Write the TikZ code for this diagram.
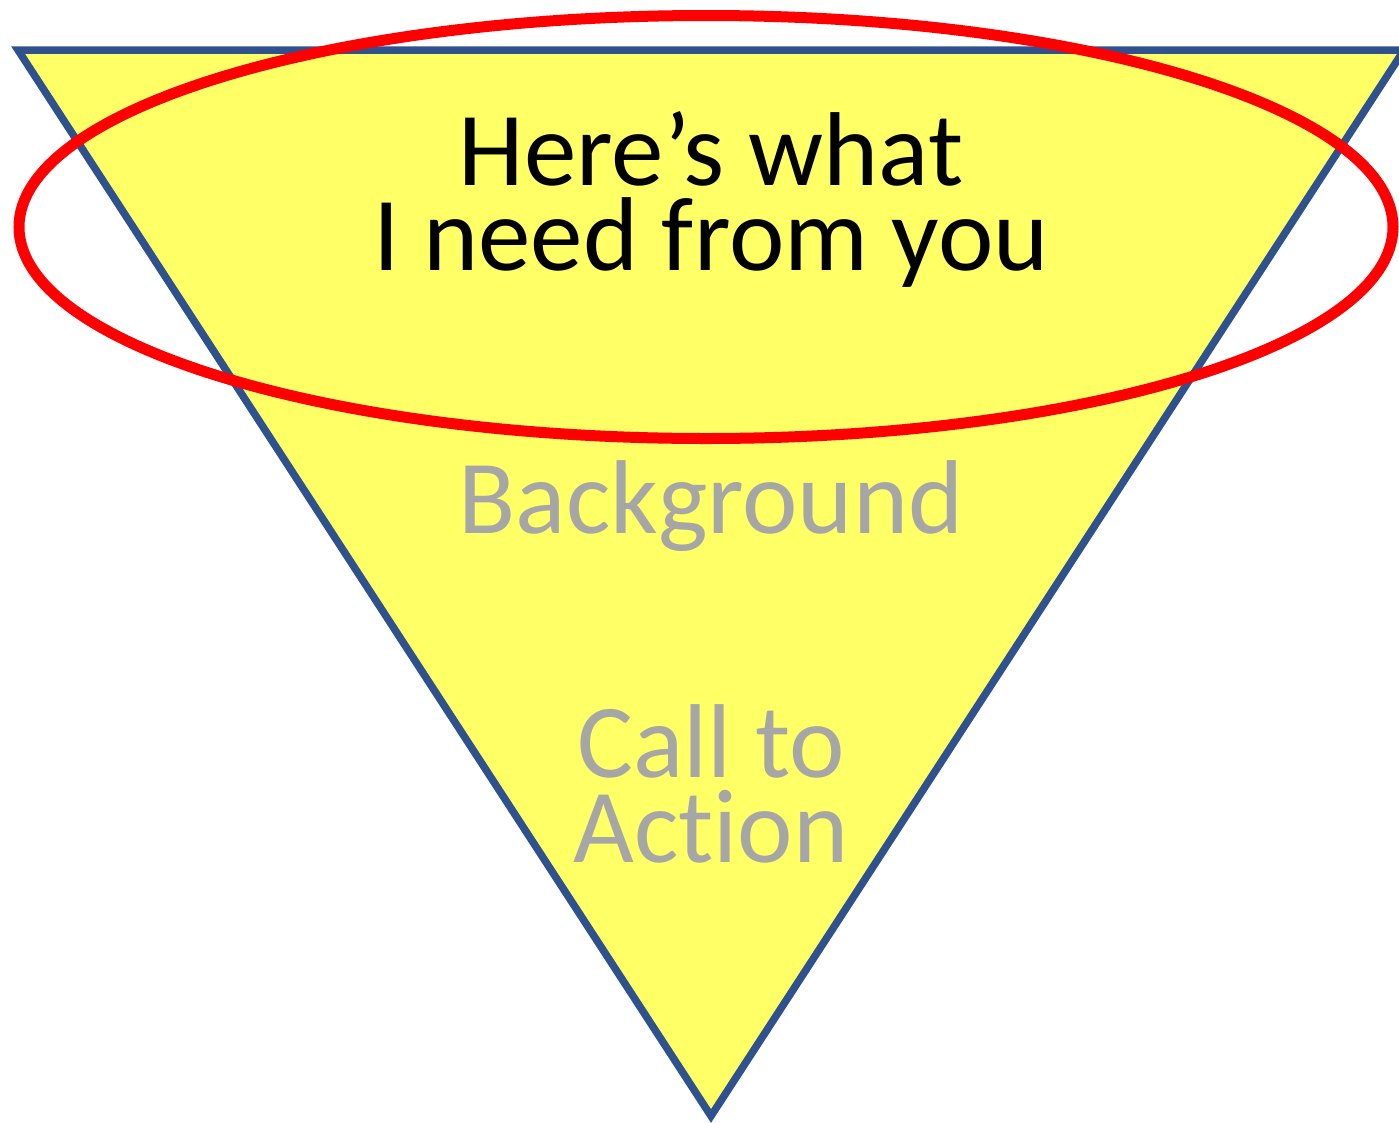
\documentclass[tikz,border=0pt]{standalone}
\usepackage{fontspec}
\setmainfont{Carlito}[Ligatures=NoCommon]
\definecolor{funnelfill}{HTML}{FFFF66}
\definecolor{funnelline}{HTML}{2F528F}
\definecolor{ringred}{HTML}{FF0000}
\definecolor{softgray}{HTML}{A6A6A6}
\tikzset{
  funnel/.style={draw=funnelline, fill=funnelfill, line width=7.5pt, line join=miter},
  ring/.style={draw=ringred, line width=11pt},
  bigtext/.style={inner sep=0pt, align=center, font=\fontsize{105}{85}\selectfont},
  maintext/.style={bigtext, text=black},
  dimtext/.style={bigtext, text=softgray}
}
\begin{document}
\begin{tikzpicture}[x=1pt, y=-1pt]
\useasboundingbox (0,0) rectangle (1399,1122);
\coordinate (tl) at (18,50);
\coordinate (tr) at (1404,50);
\coordinate (bt) at (711,1116);
\draw[funnel] (tl) -- (tr) -- (bt) -- cycle;
\node[maintext, anchor=base] (ask) at (711,270) {Here’s what\\I need from you};
\node[dimtext, anchor=base] (bg) at (711,533) {Background};
\node[dimtext, anchor=base] (cta) at (711,862) {Call to\\Action};
\draw[ring] (706,227) ellipse [x radius=687, y radius=211.5];
\end{tikzpicture}
\end{document}
